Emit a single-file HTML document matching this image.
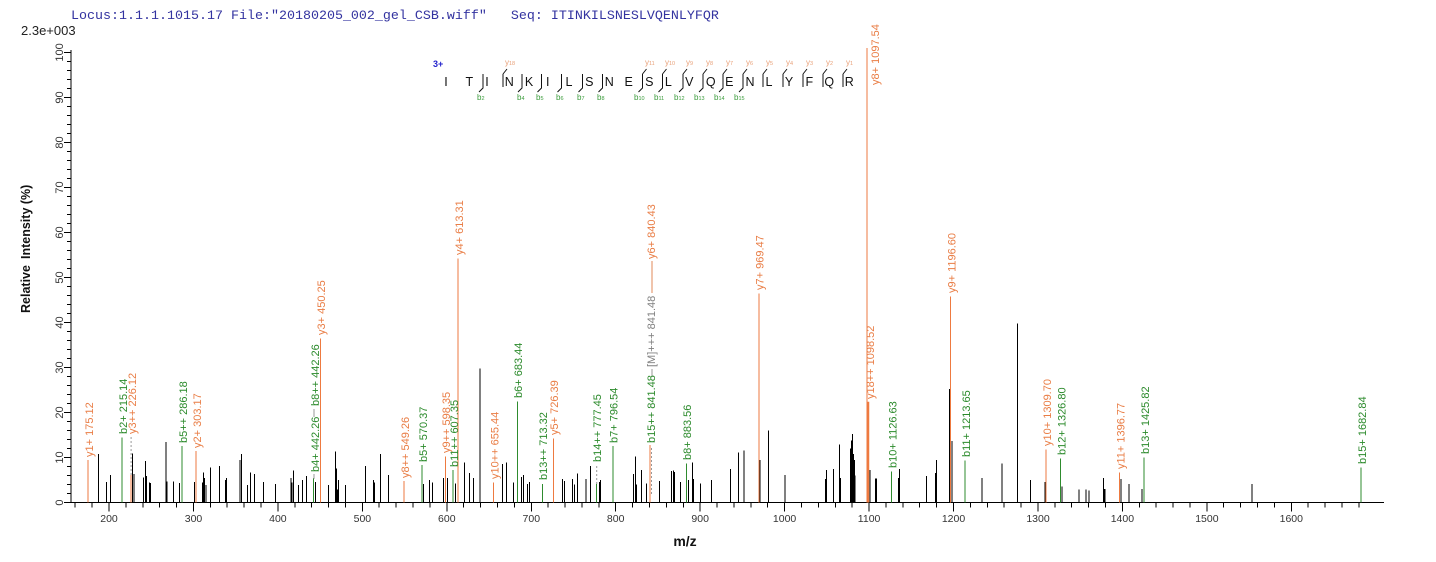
<!DOCTYPE html>
<html>
<head>
<meta charset="utf-8">
<style>
html,body{margin:0;padding:0;background:#fff;}
svg{display:block;}
text{font-family:"Liberation Sans",Arial,sans-serif;}
.lo{fill:#e97d45;font-size:11px;}
.lg{fill:#2b8a2b;font-size:11px;}
.lm{fill:#808080;font-size:11px;}
</style>
</head>
<body>
<svg width="1436" height="562" viewBox="0 0 1436 562" xmlns="http://www.w3.org/2000/svg">
<rect width="1436" height="562" fill="#fff"/>

<!-- header -->
<text x="71" y="19" style="font-family:'Liberation Mono',monospace;font-size:13.33px;fill:#3333a0;white-space:pre" xml:space="preserve">Locus:1.1.1.1015.17 File:"20180205_002_gel_CSB.wiff"   Seq: ITINKILSNESLVQENLYFQR</text>
<text x="21" y="35" style="font-size:13px;fill:#222">2.3e+003</text>

<!-- axes -->
<g stroke="#000" stroke-width="1" shape-rendering="crispEdges" fill="none">
<path d="M71 50V503M71 502.5H1384"/>
<path d="M64 502.5H71M64 457.5H71M64 412.5H71M64 367.5H71M64 322.5H71M64 277.5H71M64 232.5H71M64 187.5H71M64 142.5H71M64 97.5H71M64 52.5H71"/>
<path d="M67 493.5H71M67 484.5H71M67 475.5H71M67 466.5H71M67 448.5H71M67 439.5H71M67 430.5H71M67 421.5H71M67 403.5H71M67 394.5H71M67 385.5H71M67 376.5H71M67 358.5H71M67 349.5H71M67 340.5H71M67 331.5H71M67 313.5H71M67 304.5H71M67 295.5H71M67 286.5H71M67 268.5H71M67 259.5H71M67 250.5H71M67 241.5H71M67 223.5H71M67 214.5H71M67 205.5H71M67 196.5H71M67 178.5H71M67 169.5H71M67 160.5H71M67 151.5H71M67 133.5H71M67 124.5H71M67 115.5H71M67 106.5H71M67 88.5H71M67 79.5H71M67 70.5H71M67 61.5H71"/>
<path d="M109 502.5V511.5M193.5 502.5V511.5M277.9 502.5V511.5M362.4 502.5V511.5M446.8 502.5V511.5M531.3 502.5V511.5M615.7 502.5V511.5M700.2 502.5V511.5M784.6 502.5V511.5M869.1 502.5V511.5M953.5 502.5V511.5M1038 502.5V511.5M1122.4 502.5V511.5M1206.9 502.5V511.5M1291.3 502.5V511.5"/>
<path d="M75.2 502.5V507.5M92.1 502.5V507.5M125.9 502.5V507.5M142.8 502.5V507.5M159.7 502.5V507.5M176.6 502.5V507.5M210.3 502.5V507.5M227.2 502.5V507.5M244.1 502.5V507.5M261 502.5V507.5M294.8 502.5V507.5M311.7 502.5V507.5M328.6 502.5V507.5M345.5 502.5V507.5M379.2 502.5V507.5M396.1 502.5V507.5M413 502.5V507.5M429.9 502.5V507.5M463.7 502.5V507.5M480.6 502.5V507.5M497.5 502.5V507.5M514.4 502.5V507.5M548.1 502.5V507.5M565 502.5V507.5M581.9 502.5V507.5M598.8 502.5V507.5M632.6 502.5V507.5M649.5 502.5V507.5M666.4 502.5V507.5M683.3 502.5V507.5M717 502.5V507.5M733.9 502.5V507.5M750.8 502.5V507.5M767.7 502.5V507.5M801.5 502.5V507.5M818.4 502.5V507.5M835.3 502.5V507.5M852.2 502.5V507.5M885.9 502.5V507.5M902.8 502.5V507.5M919.7 502.5V507.5M936.6 502.5V507.5M970.4 502.5V507.5M987.3 502.5V507.5M1004.2 502.5V507.5M1021.1 502.5V507.5M1054.8 502.5V507.5M1071.7 502.5V507.5M1088.6 502.5V507.5M1105.5 502.5V507.5M1139.3 502.5V507.5M1156.2 502.5V507.5M1173.1 502.5V507.5M1190 502.5V507.5M1223.7 502.5V507.5M1240.6 502.5V507.5M1257.5 502.5V507.5M1274.4 502.5V507.5M1308.2 502.5V507.5M1325.1 502.5V507.5M1342 502.5V507.5M1358.9 502.5V507.5"/>
</g>

<!-- y tick labels -->
<g style="font-size:11px;fill:#333" text-anchor="middle">
<text transform="translate(63,502.5) rotate(-90)">0</text>
<text transform="translate(63,457.5) rotate(-90)">10</text>
<text transform="translate(63,412.5) rotate(-90)">20</text>
<text transform="translate(63,367.5) rotate(-90)">30</text>
<text transform="translate(63,322.5) rotate(-90)">40</text>
<text transform="translate(63,277.5) rotate(-90)">50</text>
<text transform="translate(63,232.5) rotate(-90)">60</text>
<text transform="translate(63,187.5) rotate(-90)">70</text>
<text transform="translate(63,142.5) rotate(-90)">80</text>
<text transform="translate(63,97.5) rotate(-90)">90</text>
<text transform="translate(63,52.5) rotate(-90)">100</text>
</g>
<!-- x tick labels -->
<g style="font-size:10.5px;fill:#333" text-anchor="middle">
<text x="109" y="522">200</text>
<text x="193.5" y="522">300</text>
<text x="277.9" y="522">400</text>
<text x="362.4" y="522">500</text>
<text x="446.8" y="522">600</text>
<text x="531.3" y="522">700</text>
<text x="615.7" y="522">800</text>
<text x="700.2" y="522">900</text>
<text x="784.6" y="522">1000</text>
<text x="869.1" y="522">1100</text>
<text x="953.5" y="522">1200</text>
<text x="1038" y="522">1300</text>
<text x="1122.4" y="522">1400</text>
<text x="1206.9" y="522">1500</text>
<text x="1291.3" y="522">1600</text>
</g>
<!-- axis titles -->
<text x="685" y="546" text-anchor="middle" style="font-size:14px;font-weight:bold;fill:#111">m/z</text>
<text transform="translate(30,313) rotate(-90)" style="font-size:12.5px;font-weight:bold;fill:#111">Relative</text>
<text transform="translate(30,259) rotate(-90)" style="font-size:12.5px;font-weight:bold;fill:#111">Intensity (%)</text>

<!-- black peaks -->
<path stroke="#000" stroke-width="1" shape-rendering="crispEdges" fill="none" d="M98.7 502.5V453.9M106.3 502.5V481.8M110.3 502.5V475M132.3 502.5V453.5M134 502.5V474.2M143.3 502.5V477.3M145.3 502.5V461.1M146.3 502.5V476M149.3 502.5V482.3M150.3 502.5V483.2M166 502.5V442.2M167 502.5V481.4M173.3 502.5V481.4M179.3 502.5V483.2M194.3 502.5V481.8M202.7 502.5V482.7M203.3 502.5V472.4M204.3 502.5V478.2M206 502.5V485M210.3 502.5V467.4M219.3 502.5V466M225.7 502.5V480M226.7 502.5V478.2M240 502.5V460.2M241.3 502.5V453.9M247.3 502.5V485M250.3 502.5V472.4M254.3 502.5V474.2M263.3 502.5V481.8M275.3 502.5V484M291 502.5V478.2M292 502.5V482.7M293.3 502.5V470.6M298.3 502.5V485M302.3 502.5V480M306.3 502.5V476M315.3 502.5V481.8M328.3 502.5V485M335.3 502.5V451.7M336.3 502.5V468.3M337.3 502.5V489.5M338.7 502.5V480M345.7 502.5V485M365.3 502.5V466M373.3 502.5V480M374.3 502.5V482.7M380.7 502.5V453.9M388.7 502.5V475M423.3 502.5V484M429.7 502.5V480M432.7 502.5V482.7M443.3 502.5V478.2M447.3 502.5V478.2M455.3 502.5V483.6M464.3 502.5V462.5M469.7 502.5V472.8M473.3 502.5V477.8M480 502.5V368.4M502.3 502.5V463.8M506.7 502.5V462.5M513.3 502.5V482.7M521.7 502.5V476.9M523.3 502.5V475M527.3 502.5V484M529.3 502.5V481.8M562.3 502.5V479.1M564.3 502.5V480.9M572.3 502.5V479.1M574.3 502.5V484.5M577.3 502.5V473.3M586 502.5V479.1M590.7 502.5V466M599.3 502.5V481.8M600.7 502.5V480M633.3 502.5V474.2M635.3 502.5V456.6M636.7 502.5V484.5M641.3 502.5V470.1M646.7 502.5V483.6M659.3 502.5V480.9M671.3 502.5V471M673.3 502.5V470.6M674.3 502.5V471.9M680.7 502.5V481.8M688.3 502.5V480M692.3 502.5V462.5M693.3 502.5V479.1M700.3 502.5V483.6M711.7 502.5V480M730.7 502.5V468.8M738.3 502.5V452.6M744 502.5V450.3M760 502.5V460.2M768.3 502.5V430.5M785 502.5V475M825.7 502.5V479.1M826.7 502.5V470.1M833.3 502.5V468.8M839.3 502.5V444.5M840.3 502.5V477.8M850.5 502.5V448.5M851.5 502.5V440.4M852.5 502.5V434.1M853.3 502.5V453.9M854.3 502.5V460.2M855.2 502.5V475.5M870 502.5V470.1M875.5 502.5V478.7M876.5 502.5V478.7M898.5 502.5V477.8M899.6 502.5V469.2M926.4 502.5V476M935.4 502.5V472.8M936.4 502.5V460.2M949.3 502.5V389.1M952 502.5V440.9M982.2 502.5V477.8M1002.1 502.5V463.4M1017.6 502.5V323.4M1030.3 502.5V480M1045 502.5V481.8M1061.8 502.5V486.3M1079.2 502.5V489.5M1086.1 502.5V489.5M1089.2 502.5V490.4M1103.3 502.5V477.8M1104.3 502.5V489M1105 502.5V489M1120.8 502.5V479.1M1129.1 502.5V484M1142.2 502.5V489M1251.9 502.5V484"/>

<!-- orange (y) peaks -->
<path stroke="#ee7a40" stroke-width="1" shape-rendering="crispEdges" fill="none" d="M88 502.5V460.2M131.1 502.5V475M196.1 502.5V451M320.3 502.5V338.3M403.9 502.5V481M445.4 502.5V456.7M458 502.5V258.3M493.6 502.5V482.7M553.6 502.5V438.3M649.9 502.5V445M758.8 502.5V293.3M867 502.5V48M950.6 502.5V296.7M1046 502.5V449.3M1119.6 502.5V472.3"/>
<path stroke="#ee7a40" stroke-width="2.5" fill="none" d="M868 502.5V401.7"/>
<!-- green (b) peaks -->
<path stroke="#2e8b2e" stroke-width="1" shape-rendering="crispEdges" fill="none" d="M121.8 502.5V437.3M181.8 502.5V446M313.6 502.5V478M421.8 502.5V465M453 502.5V470M517.3 502.5V401.7M542.5 502.5V484M596.7 502.5V484M612.8 502.5V446M686.3 502.5V463.3M891.5 502.5V471.7M965 502.5V460.7M1060.5 502.5V458.3M1144.2 502.5V457.7M1361.2 502.5V467.7"/>
<!-- connectors -->
<path stroke="#999" stroke-width="1" stroke-dasharray="2,2" fill="none" d="M131.1 475V437M596.7 484V465M651.5 494V446"/>
<path stroke="#999" stroke-width="1" fill="none" d="M314 479V474M314 417V409M652 377V369"/>
<path stroke="#e08a5a" stroke-width="1" fill="none" d="M652 293V261"/>

<!-- peak labels -->
<text class="lo" transform="translate(93,457) rotate(-90)">y1+ 175.12</text>
<text class="lg" transform="translate(127,434) rotate(-90)">b2+ 215.14</text>
<text class="lo" transform="translate(136,434) rotate(-90)">y3++ 226.12</text>
<text class="lg" transform="translate(187,443) rotate(-90)">b5++ 286.18</text>
<text class="lo" transform="translate(201,448) rotate(-90)">y2+ 303.17</text>
<text class="lg" transform="translate(319,472) rotate(-90)">b4+ 442.26</text>
<text class="lg" transform="translate(319,406) rotate(-90)">b8++ 442.26</text>
<text class="lo" transform="translate(325,335) rotate(-90)">y3+ 450.25</text>
<text class="lo" transform="translate(409,478) rotate(-90)">y8++ 549.26</text>
<text class="lg" transform="translate(427,462) rotate(-90)">b5+ 570.37</text>
<text class="lo" transform="translate(450,453) rotate(-90)">y9++ 598.35</text>
<text class="lg" transform="translate(458,467) rotate(-90)">b11++ 607.35</text>
<text class="lo" transform="translate(463,255) rotate(-90)">y4+ 613.31</text>
<text class="lo" transform="translate(498.5,479) rotate(-90)">y10++ 655.44</text>
<text class="lg" transform="translate(522,398) rotate(-90)">b6+ 683.44</text>
<text class="lg" transform="translate(547,480) rotate(-90)">b13++ 713.32</text>
<text class="lo" transform="translate(558,435) rotate(-90)">y5+ 726.39</text>
<text class="lg" transform="translate(601,462) rotate(-90)">b14++ 777.45</text>
<text class="lg" transform="translate(617.5,443) rotate(-90)">b7+ 796.54</text>
<text class="lg" transform="translate(655,443) rotate(-90)">b15++ 841.48</text>
<text class="lm" transform="translate(655,367) rotate(-90)">[M]+++ 841.48</text>
<text class="lo" transform="translate(655,259) rotate(-90)">y6+ 840.43</text>
<text class="lg" transform="translate(691,460) rotate(-90)">b8+ 883.56</text>
<text class="lo" transform="translate(763.5,290) rotate(-90)">y7+ 969.47</text>
<text class="lo" transform="translate(879,85) rotate(-90)">y8+ 1097.54</text>
<text class="lo" transform="translate(874,399) rotate(-90)">y18++ 1098.52</text>
<text class="lg" transform="translate(896.5,468) rotate(-90)">b10+ 1126.63</text>
<text class="lo" transform="translate(955.5,293) rotate(-90)">y9+ 1196.60</text>
<text class="lg" transform="translate(970,457) rotate(-90)">b11+ 1213.65</text>
<text class="lo" transform="translate(1051,446) rotate(-90)">y10+ 1309.70</text>
<text class="lg" transform="translate(1065.5,455) rotate(-90)">b12+ 1326.80</text>
<text class="lo" transform="translate(1124.5,469) rotate(-90)">y11+ 1396.77</text>
<text class="lg" transform="translate(1149,454) rotate(-90)">b13+ 1425.82</text>
<text class="lg" transform="translate(1366,464) rotate(-90)">b15+ 1682.84</text>

<!-- sequence diagram -->
<text x="433" y="67" style="font-size:9px;font-weight:bold;fill:#2222cc">3+</text>
<g style="font-size:12.5px;fill:#111" text-anchor="middle">
<text x="446" y="86">I</text>
<text x="469.3" y="86">T</text>
<text x="487" y="86">I</text>
<text x="509.3" y="86">N</text>
<text x="529" y="86">K</text>
<text x="547.7" y="86">I</text>
<text x="569" y="86">L</text>
<text x="589.3" y="86">S</text>
<text x="609.3" y="86">N</text>
<text x="628.7" y="86">E</text>
<text x="649.3" y="86">S</text>
<text x="668.3" y="86">L</text>
<text x="689.3" y="86">V</text>
<text x="710.7" y="86">Q</text>
<text x="729.3" y="86">E</text>
<text x="750" y="86">N</text>
<text x="769" y="86">L</text>
<text x="789" y="86">Y</text>
<text x="809.3" y="86">F</text>
<text x="829.3" y="86">Q</text>
<text x="849.3" y="86">R</text>
</g>
<path stroke="#111" stroke-width="1" fill="none" d="M483 74V88L479 92M503 74V87M503 74L507 69M522 74V88L518 92M541.5 74V88L537.5 92M561.5 74V88L557.5 92M582.5 74V88L578.5 92M602.5 74V88L598.5 92M642.5 74V88L638.5 92M642.5 74L646.5 69M662.5 74V88L658.5 92M662.5 74L666.5 69M683 74V88L679 92M683 74L687 69M703 74V88L699 92M703 74L707 69M723 74V88L719 92M723 74L727 69M743 74V88L739 92M743 74L747 69M763 74V87M763 74L767 69M783 74V87M783 74L787 69M803 74V87M803 74L807 69M823 74V87M823 74L827 69M843 74V87M843 74L847 69"/>
<g style="fill:#e8a078;font-size:8px">
<text x="505" y="65">y<tspan style="font-size:5.5px">18</tspan></text>
<text x="645" y="65">y<tspan style="font-size:5.5px">11</tspan></text>
<text x="665" y="65">y<tspan style="font-size:5.5px">10</tspan></text>
<text x="686" y="65">y<tspan style="font-size:5.5px">9</tspan></text>
<text x="706" y="65">y<tspan style="font-size:5.5px">8</tspan></text>
<text x="726" y="65">y<tspan style="font-size:5.5px">7</tspan></text>
<text x="746" y="65">y<tspan style="font-size:5.5px">6</tspan></text>
<text x="766" y="65">y<tspan style="font-size:5.5px">5</tspan></text>
<text x="786" y="65">y<tspan style="font-size:5.5px">4</tspan></text>
<text x="806" y="65">y<tspan style="font-size:5.5px">3</tspan></text>
<text x="826" y="65">y<tspan style="font-size:5.5px">2</tspan></text>
<text x="846" y="65">y<tspan style="font-size:5.5px">1</tspan></text>
</g>
<g style="fill:#3c9c3c;font-size:8px">
<text x="477" y="100">b<tspan style="font-size:5.5px">2</tspan></text>
<text x="517" y="100">b<tspan style="font-size:5.5px">4</tspan></text>
<text x="536" y="100">b<tspan style="font-size:5.5px">5</tspan></text>
<text x="556" y="100">b<tspan style="font-size:5.5px">6</tspan></text>
<text x="577" y="100">b<tspan style="font-size:5.5px">7</tspan></text>
<text x="597" y="100">b<tspan style="font-size:5.5px">8</tspan></text>
<text x="634" y="100">b<tspan style="font-size:5.5px">10</tspan></text>
<text x="654" y="100">b<tspan style="font-size:5.5px">11</tspan></text>
<text x="674" y="100">b<tspan style="font-size:5.5px">12</tspan></text>
<text x="694" y="100">b<tspan style="font-size:5.5px">13</tspan></text>
<text x="714" y="100">b<tspan style="font-size:5.5px">14</tspan></text>
<text x="734" y="100">b<tspan style="font-size:5.5px">15</tspan></text>
</g>
</svg>
</body>
</html>
